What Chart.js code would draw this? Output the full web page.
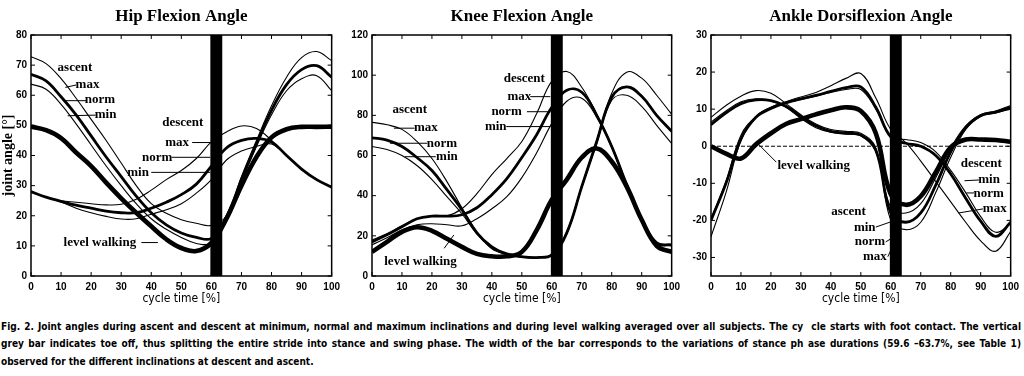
<!DOCTYPE html>
<html>
<head>
<meta charset="utf-8">
<script src="https://cdn.jsdelivr.net/npm/chart.js@4/dist/chart.umd.min.js"></script>
<style>
  html, body { margin: 0; padding: 0; background: #fff; width: 1024px; height: 376px; overflow: hidden; }
  canvas { position: absolute; top: 0; }
  #hip { left: 0; }
  #knee { left: 340px; }
  #ankle { left: 680px; }
  .cap { position: absolute; left: 1px; width: 1020px; font-family: "DejaVu Sans Condensed", "DejaVu Sans", sans-serif; font-weight: bold; font-size: 10px; color: #000; white-space: nowrap; line-height: 14px; }
  .just { text-align: justify; text-align-last: justify; }
</style>
</head>
<body>
<canvas id="hip" width="345" height="310"></canvas>
<canvas id="knee" width="345" height="310"></canvas>
<canvas id="ankle" width="344" height="310"></canvas>
<div class="cap just" style="top:320px">Fig. 2. Joint angles during ascent and descent at minimum, normal and maximum inclinations and during level walking averaged over all subjects. The cy&nbsp; cle starts with foot contact. The vertical</div>
<div class="cap just" style="top:337px">grey bar indicates toe off, thus splitting the entire stride into stance and swing phase. The width of the bar corresponds to the variations of stance ph ase durations (59.6 –63.7%, see Table 1)</div>
<div class="cap" style="top:355px">observed for the different inclinations at descent and ascent.</div>
<script>
// cycle time [%] sample points shared by every curve
const cycle = [0, 5, 10, 15, 20, 25, 30, 35, 40, 45, 50, 55, 60, 65, 70, 75, 80, 85, 90, 95, 100];
const xTicks = [0, 10, 20, 30, 40, 50, 60, 70, 80, 90, 100];
// toe-off bar (stance phase durations 59.6 - 63.7 %)
const toeOff = [59.6, 63.7];

// --- Hip flexion angle ---
const hipAscMax  = [72.8, 70.5, 65.5, 59, 52, 45, 37.5, 30, 24, 20.8, 18.7, 17.5, 16.8, 20, 33, 45, 56.5, 66, 72.5, 74.5, 71.5];
const hipAscNorm = [67, 64.8, 59.5, 53.5, 46.5, 39.5, 33, 26.5, 21, 17, 14.3, 12.8, 12.5, 19.5, 32, 44, 55, 63.5, 68.5, 69.8, 66];
const hipAscMin  = [63.7, 62, 57, 50.5, 43.5, 36.5, 30, 24, 19, 15.5, 12.8, 10.8, 11, 19, 31.5, 43, 53.5, 61.5, 65.5, 66.5, 61.5];
const hipDesMax  = [28, 26.2, 25, 24.5, 24, 23.6, 23.8, 25.5, 28.5, 32, 35, 39, 44.5, 47.8, 49.8, 49, 45, 40, 35.5, 32, 29.5];
const hipDesNorm = [28, 26.2, 24.8, 23.5, 22.5, 21.5, 21, 21, 22.5, 24.5, 27, 30.5, 36.5, 42.5, 45, 45.7, 44.5, 40, 35.5, 32, 29.5];
const hipDesMin  = [28, 26.2, 24.6, 22.5, 21, 19.8, 18.9, 19, 20.5, 22, 24, 27.5, 32, 38.5, 41.5, 43, 43.8, 40, 35.5, 32, 29.5];
const hipLevel   = [49.6, 48.4, 45.8, 41, 36.5, 31, 25.8, 21, 16.5, 12.2, 9.3, 8.3, 11, 19, 30, 39.5, 46, 48.7, 49.5, 49.5, 49.6];
const hipYTicks  = [0, 10, 20, 30, 40, 50, 60, 70, 80];

// --- Knee flexion angle ---
const kneeAscMax  = [76.5, 75.3, 73, 67, 58.5, 47, 34, 22, 13.5, 10.8, 9.6, 9.3, 10.5, 22, 45, 67.5, 91, 101.5, 98.5, 90, 80.5];
const kneeAscNorm = [68.8, 67.7, 64.5, 59, 52.5, 43, 33, 21.5, 14.5, 11, 9.6, 9.2, 10.5, 21.5, 44.5, 67, 89, 94.2, 89.5, 80, 72];
const kneeAscMin  = [64.5, 63, 60, 55, 48, 39.5, 31, 21, 14, 10.5, 9.3, 9, 10.5, 21, 44, 66, 87.5, 90, 84.5, 75, 66];
const kneeDesMax  = [18, 21, 25, 28.5, 30, 30, 33.5, 41, 50.5, 58.5, 67, 81, 97, 101.8, 94, 80.5, 65, 46, 28, 16.5, 15.5];
const kneeDesNorm = [17, 20.5, 24.5, 28.5, 29.8, 29.8, 30.5, 34, 40.5, 48.5, 59, 70.5, 84, 92.5, 91.5, 80, 64.5, 45.5, 28, 16.5, 15.5];
const kneeDesMin  = [15.5, 19, 23, 25.5, 26, 25.5, 25, 28.5, 33.5, 39.5, 49, 61.5, 76, 87, 88.5, 79, 64, 45, 27.5, 16, 15];
const kneeLevel   = [12, 17, 22, 24.3, 22.5, 18.5, 14.5, 11, 9.8, 9.8, 12, 23, 38, 48, 59, 63.5, 57, 44.5, 28, 15, 12];
const kneeYTicks  = [0, 20, 40, 60, 80, 100, 120];

// --- Ankle dorsiflexion angle ---
const ankAscMax  = [7.8, 11, 13.5, 15, 14.3, 11.5, 8.5, 6, 4.5, 4, 3.5, -0.5, -20, -22.5, -20.5, -12.5, -3, 4.5, 8, 9, 10];
const ankAscNorm = [5.8, 9, 11.5, 12.5, 12.3, 10.8, 8, 5.5, 4, 3.5, 3, -1, -18, -20.5, -18, -10.5, -1.5, 5, 8.3, 9.2, 10.5];
const ankAscMin  = [6.5, 9.5, 12, 12.8, 12.3, 10.5, 7.5, 5, 3.8, 3.3, 2.8, -1.5, -16.5, -18, -15.5, -8.5, -0.5, 5.5, 8.5, 9.5, 11];
const ankDesMax  = [-24.4, -12.5, 1.5, 8, 10.5, 12, 13.3, 14.5, 16.3, 18.3, 19.6, 13, 4.5, 1, -4, -9.5, -15, -20.5, -25.5, -28.3, -23];
const ankDesNorm = [-20, -10, 2, 7.8, 10.2, 11.7, 12.8, 13.7, 14.8, 15.8, 16, 10.5, 2.5, 0.8, 0, -2.5, -7.5, -14, -20.2, -24.3, -20.5];
const ankDesMin  = [-19.5, -9.5, 3, 8, 10.5, 11.7, 12.6, 13.5, 14.5, 15.3, 15.3, 10, 2.5, 1.8, 1, -1.5, -6.5, -12.5, -19, -23.2, -21];
const ankLevel   = [0, -2, -3.3, 0.5, 3.5, 6, 7.3, 8.6, 9.7, 10.5, 9.5, 3.5, -13, -15.8, -13.5, -7, -0.3, 1.8, 1.8, 1.7, 1.2];
const ankYTicks  = [-30, -20, -10, 0, 10, 20, 30];

const tickFont = { family: 'Liberation Sans', size: 10, weight: 'bold' };
const noteFont = 'bold 13px "Liberation Serif"';

// draws frame, inward ticks, panel title, curve labels and leader lines
const panelDecor = {
  id: 'panelDecor',
  afterDatasetsDraw(chart, args, opts) {
    const { ctx, chartArea: a, scales: { x, y } } = chart;
    ctx.save();
    ctx.strokeStyle = '#000';
    ctx.fillStyle = '#000';
    ctx.lineWidth = 1;
    (opts.leaders || []).forEach(l => {
      ctx.beginPath();
      ctx.moveTo(x.getPixelForValue(l[0]), y.getPixelForValue(l[1]));
      ctx.lineTo(x.getPixelForValue(l[2]), y.getPixelForValue(l[3]));
      ctx.stroke();
    });
    ctx.font = noteFont;
    ctx.textAlign = 'center';
    ctx.textBaseline = 'middle';
    (opts.notes || []).forEach(n => ctx.fillText(n[0], x.getPixelForValue(n[1]), y.getPixelForValue(n[2])));

    ctx.lineWidth = 1.5;
    ctx.strokeRect(a.left, a.top, a.right - a.left, a.bottom - a.top);
    ctx.lineWidth = 1;
    ctx.beginPath();
    x.ticks.forEach(t => {
      const px = x.getPixelForValue(t.value);
      ctx.moveTo(px, a.bottom); ctx.lineTo(px, a.bottom - 4);
      ctx.moveTo(px, a.top); ctx.lineTo(px, a.top + 4);
    });
    y.ticks.forEach(t => {
      const py = y.getPixelForValue(t.value);
      ctx.moveTo(a.left, py); ctx.lineTo(a.left + 4, py);
      ctx.moveTo(a.right, py); ctx.lineTo(a.right - 4, py);
    });
    ctx.stroke();

    ctx.font = 'bold 17px "Liberation Serif"';
    ctx.fillText(opts.title, (a.left + a.right) / 2, 17);
    ctx.restore();
  }
};

function curve(vals, width) {
  return {
    data: cycle.map((c, i) => ({ x: c, y: vals[i] })),
    borderColor: '#000', borderWidth: width, pointRadius: 0,
    tension: 0.4, fill: false, order: 1
  };
}

function makePanel(id, p) {
  const datasets = [{
    data: toeOff.map(v => ({ x: v, y: p.yMax })),
    borderWidth: 0, backgroundColor: '#000', pointRadius: 0,
    fill: 'start', tension: 0, order: 0
  }];
  if (p.zeroLine) {
    datasets.push({
      data: [{ x: 0, y: 0 }, { x: 100, y: 0 }],
      borderColor: '#000', borderWidth: 1, borderDash: [4, 2], pointRadius: 0, order: 1
    });
  }
  p.thin.forEach(s => datasets.push(curve(s, 1.1)));
  p.norm.forEach(s => datasets.push(curve(s, 2.8)));
  datasets.push(curve(p.level, 4.6));

  new Chart(document.getElementById(id), {
    type: 'line',
    data: { datasets },
    plugins: [panelDecor],
    options: {
      responsive: false,
      animation: false,
      devicePixelRatio: 1,
      layout: { padding: { top: 35, right: p.padRight, left: 0, bottom: 0 } },
      plugins: {
        legend: { display: false },
        tooltip: { enabled: false },
        panelDecor: { title: p.title, notes: p.notes, leaders: p.leaders }
      },
      scales: {
        x: {
          type: 'linear', min: 0, max: 100,
          afterBuildTicks: s => { s.ticks = xTicks.map(v => ({ value: v })); },
          afterFit: s => { s.height = 34; },
          grid: { display: false, drawTicks: false },
          border: { display: false },
          ticks: { font: tickFont, color: '#000', padding: 5, maxRotation: 0, autoSkip: false },
          title: { display: true, text: 'cycle time [%]', color: '#000',
                   font: { family: 'DejaVu Sans Condensed', size: 12 }, padding: { top: 0, bottom: 4 } }
        },
        y: {
          type: 'linear', min: p.yMin, max: p.yMax,
          afterBuildTicks: s => { s.ticks = p.yTicks.map(v => ({ value: v })); },
          afterFit: s => { s.width = p.yWidth; },
          grid: { display: false, drawTicks: false },
          border: { display: false },
          ticks: { font: tickFont, color: '#000', padding: 4, autoSkip: false },
          title: { display: !!p.yTitle, text: p.yTitle || '', color: '#000',
                   font: { family: 'Liberation Serif', size: 14, weight: 'bold' }, padding: { top: 0, bottom: 0 } }
        }
      }
    }
  });
}

makePanel('hip', {
  title: 'Hip Flexion Angle', yMin: 0, yMax: 80, yTicks: hipYTicks, yWidth: 31, padRight: 8,
  yTitle: 'joint angle [°]',
  thin: [hipAscMax, hipAscMin, hipDesMax, hipDesMin], norm: [hipAscNorm, hipDesNorm], level: hipLevel,
  notes: [['ascent', 14.6, 69.1], ['max', 18.8, 63.4], ['norm', 22.9, 58.4], ['min', 24.8, 53.4],
          ['descent', 50.5, 50.9], ['max', 48.6, 44.3], ['norm', 42, 39.4], ['min', 35.6, 34.4],
          ['level walking', 22.9, 11.1]],
  leaders: [[11.4, 62.6, 15, 63.4], [10.6, 58.2, 18.4, 58.2], [12.2, 53.2, 21.5, 53.4],
            [53.6, 44.3, 59.6, 44.3], [46.8, 39.4, 59.6, 39.4], [40, 34.4, 59.6, 34.4], [36.7, 11.1, 42.2, 11.1]]
});

makePanel('knee', {
  title: 'Knee Flexion Angle', yMin: 0, yMax: 120, yTicks: kneeYTicks, yWidth: 32, padRight: 8,
  thin: [kneeAscMax, kneeAscMin, kneeDesMax, kneeDesMin], norm: [kneeAscNorm, kneeDesNorm], level: kneeLevel,
  notes: [['ascent', 12.6, 82.7], ['max', 18, 73.9], ['norm', 23.3, 66.1], ['min', 25, 59.4],
          ['descent', 50.8, 98.5], ['max', 49.2, 89.3], ['norm', 44.9, 81.8], ['min', 41.3, 74.4],
          ['level walking', 16.2, 7.1]],
  leaders: [[7.3, 73.6, 14.2, 73.6], [6, 66.1, 18.5, 66.1], [10.9, 59.4, 21.3, 59.4],
            [52.8, 89.3, 59.5, 89.3], [51.7, 81.8, 59.5, 81.8], [44.8, 74.4, 59.5, 74.4], [24.1, 13.8, 27.3, 20.4]]
});

makePanel('ankle', {
  title: 'Ankle Dorsiflexion Angle', yMin: -35, yMax: 30, yTicks: ankYTicks, yWidth: 31, padRight: 9,
  zeroLine: true,
  thin: [ankAscMax, ankAscMin, ankDesMax, ankDesMin], norm: [ankAscNorm, ankDesNorm], level: ankLevel,
  notes: [['level walking', 34.3, -5.2], ['descent', 90.2, -4.6], ['min', 92.8, -9.1], ['norm', 92.7, -12.7], ['max', 94.7, -16.9],
          ['ascent', 45.9, -17.7], ['min', 51.3, -22], ['norm', 53, -25.8], ['max', 54.7, -29.9]],
  leaders: [[15.5, 0.8, 21.8, -4.3], [84.6, -9.3, 89.5, -9.1], [85.2, -12.6, 87.8, -12.6], [82.6, -18, 90.8, -16.9],
            [55, -21.8, 60, -20.4], [58.3, -25.8, 61, -24.5], [59, -29.8, 60.6, -27.1]]
});
</script>
</body>
</html>
